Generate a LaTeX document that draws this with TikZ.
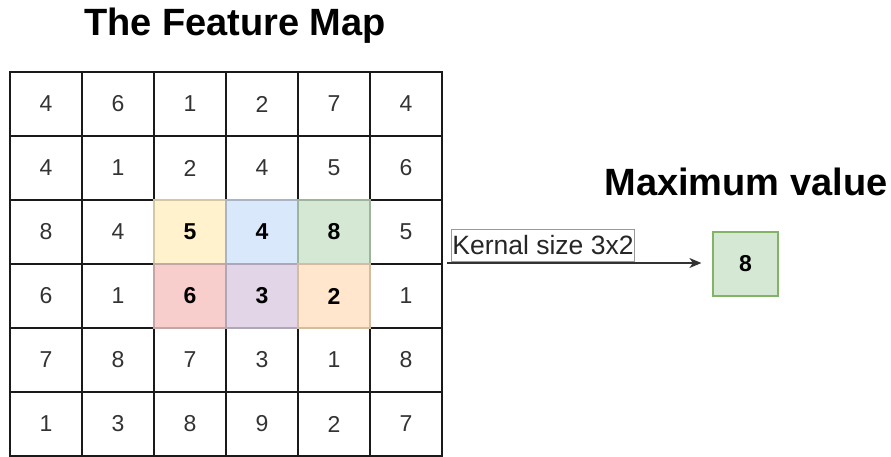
\documentclass[tikz,border=0pt]{standalone}
\usepackage{fontspec}
\setmainfont{Liberation Sans}
\usetikzlibrary{arrows.meta}

% cell fills and strokes
\definecolor{gridline}{HTML}{1A1A1A}
\definecolor{digit}{HTML}{333333}
\definecolor{yelF}{HTML}{FFF2CC}\definecolor{yelS}{HTML}{D4C8A4}
\definecolor{bluF}{HTML}{DAE8FC}\definecolor{bluS}{HTML}{A9B4C4}
\definecolor{grnF}{HTML}{D5E8D4}\definecolor{grnS}{HTML}{9DB59A}
\definecolor{redF}{HTML}{F8CECC}\definecolor{redS}{HTML}{C4A6A4}
\definecolor{purF}{HTML}{E1D5E7}\definecolor{purS}{HTML}{B0A6B6}
\definecolor{orgF}{HTML}{FFE6CC}\definecolor{orgS}{HTML}{D4BCA0}
\definecolor{maxS}{HTML}{82B366}

\begin{document}
\begin{tikzpicture}[x=1pt,y=-1pt,
  cell/.style={draw=gridline, line width=1.4pt, minimum width=72pt, minimum height=64pt,
    inner sep=0pt, outer sep=0pt, text=digit, font=\fontsize{23}{27}\selectfont},
  hot/.style={cell, font=\fontsize{23}{27}\selectfont\bfseries, text=black},
  title/.style={font=\fontsize{38}{45}\selectfont\bfseries, inner sep=0pt, anchor=base},
  kernel/.style={draw=black!40, line width=0.7pt, fill=white, inner xsep=1pt, inner ysep=0pt,
    minimum height=32pt, font=\fontsize{26.5}{30}\selectfont, text=black!85, anchor=west},
  maxbox/.style={draw=maxS, fill=grnF, line width=1.2pt, minimum width=65pt, minimum height=64pt,
    inner sep=0pt, font=\fontsize{23}{27}\selectfont\bfseries},
  flow/.style={draw=black!80, line width=1.4pt, -{Stealth[length=12pt,width=10pt,inset=3.5pt]}}
]
\useasboundingbox (0,0) rectangle (891,456);

% titles
\node[title] (ftitle) at (235,35) {The Feature Map};
\node[title] (mtitle) at (746,195) {Maximum value};

% the 6x6 feature map
\foreach \r/\row in {0/{4,6,1,2,7,4}, 1/{4,1,2,4,5,6}, 2/{8,4,5,4,8,5},
                     3/{6,1,6,3,2,1}, 4/{7,8,7,3,1,8}, 5/{1,3,8,9,2,7}}{
  \foreach \v [count=\c from 0] in \row {
    \node[cell] (c-\r-\c) at ({46+72*\c},{104+64*\r}) {\v};
  }
}

% the 3x2 pooling window
\node[hot, draw=yelS, fill=yelF] (w-0-0) at (190,232) {5};
\node[hot, draw=bluS, fill=bluF] (w-0-1) at (262,232) {4};
\node[hot, draw=grnS, fill=grnF] (w-0-2) at (334,232) {8};
\node[hot, draw=redS, fill=redF] (w-1-0) at (190,296) {6};
\node[hot, draw=purS, fill=purF] (w-1-1) at (262,296) {3};
\node[hot, draw=orgS, fill=orgF] (w-1-2) at (334,296) {2};

% result of the pooling
\node[maxbox] (maxv) at (745.5,264) {8};

% connector with its label
\coordinate (kstart) at (447,263);
\draw[flow] (kstart) -- ([xshift=-11pt]maxv.west |- kstart);
\node[kernel] (klabel) at (451,245) {Kernal size 3x2};
\end{tikzpicture}
\end{document}
